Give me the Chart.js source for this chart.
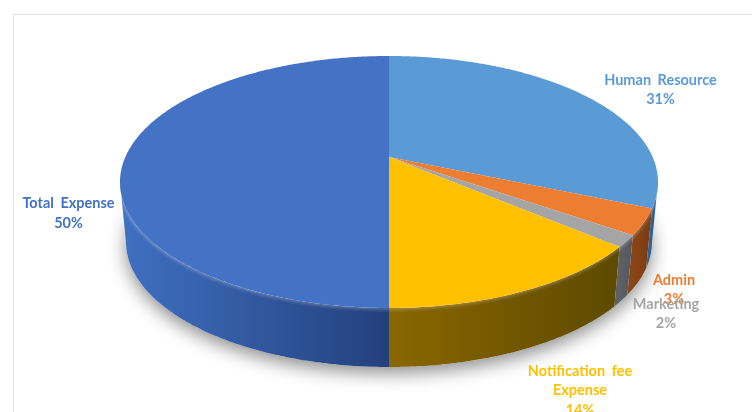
<!DOCTYPE html>
<html>
<head>
<meta charset="utf-8">
<style>
  html, body { margin: 0; padding: 0; background: #fff; overflow: hidden; }
  #frame { position: absolute; left: 13px; top: 14px; width: 800px; height: 500px; border: 1px solid #e3e3e3; }
  #pie_chart { position: absolute; left: 0; top: 0; }
</style>
</head>
<body>
<div id="frame"></div>
<canvas id="pie_chart" width="752" height="412"></canvas>
<script src="https://cdn.jsdelivr.net/npm/chart.js@4"></script>
<script>
var categories = ["Human Resource", "Admin", "Marketing", "Notification fee Expense", "Total Expense"];
var shares = [31.4, 3.3, 1.5, 13.8, 50];
var topColors = ["#5b9bd5", "#ed7d31", "#a5a5a5", "#ffc000", "#4472c4"];
var labelLines = [["Human Resource"], ["Admin"], ["Marketing"], ["Notification fee", "Expense"], ["Total Expense"]];

// wall colours, left end then right end of each slice
var wallColors = [
  ["#2f6396", "#234d74"],
  ["#8a4516", "#7a3a10"],
  ["#5d6064", "#53565a"],
  ["#8a6700", "#5d4900"],
  ["#4070c2", "#23407c"],
];
// centre x and y of the first line of each label
var labelPlaces = [[660.5, 80], [674, 280], [666, 304], [580, 371], [68.5, 203.5]];

var topFace = { cx: 389, cy: 182, rx: 269, ry: 126 };
var bottomFace = { cx: 389, cy: 242, rx: 263, ry: 125 };
var tilt = -0.198; // perspective shift, moves the pie centre up from the ellipse centre

// point on a face for an angle of the flat pie
function facePoint(face, a) {
  var u = Math.cos(a), v = Math.sin(a);
  var d = 1 + tilt * v;
  return {
    x: face.cx + face.rx * u * Math.sqrt(1 - tilt * tilt) / d,
    y: face.cy + face.ry * (v + tilt) / d,
  };
}

function traceEdge(ctx, face, from, to, first) {
  var steps = Math.max(2, Math.ceil(Math.abs(to - from) / 0.01));
  for (var i = 0; i <= steps; i++) {
    var p = facePoint(face, from + (to - from) * i / steps);
    if (i == 0 && first) ctx.moveTo(p.x, p.y);
    else ctx.lineTo(p.x, p.y);
  }
}

var pie3d = {
  id: "pie3d",
  beforeDatasetDraw: function (chart, args) {
    var ctx = chart.ctx;
    var arcs = chart.getDatasetMeta(args.index).data;
    var frontStart = Math.asin(-tilt);
    var frontEnd = Math.PI - frontStart;

    // soft shadow under the pie
    ctx.save();
    ctx.shadowColor = "rgba(0,0,0,0.45)";
    ctx.shadowBlur = 18;
    ctx.shadowOffsetY = 6;
    ctx.fillStyle = "#fff";
    ctx.beginPath();
    traceEdge(ctx, bottomFace, 0, Math.PI * 2, true);
    ctx.closePath();
    ctx.fill();
    ctx.restore();

    // side walls, only the part facing the viewer
    arcs.forEach(function (arc, i) {
      var from = Math.max(arc.startAngle, frontStart);
      var to = Math.min(arc.endAngle, frontEnd);
      if (to <= from) return;
      var x1 = facePoint(topFace, from).x, x2 = facePoint(topFace, to).x;
      var grad = ctx.createLinearGradient(Math.min(x1, x2), 0, Math.max(x1, x2), 0);
      grad.addColorStop(0, wallColors[i][0]);
      grad.addColorStop(1, wallColors[i][1]);
      ctx.fillStyle = grad;
      ctx.beginPath();
      traceEdge(ctx, topFace, from, to, true);
      traceEdge(ctx, bottomFace, to, from, false);
      ctx.closePath();
      ctx.fill();
    });

    // bevel along the front rim, soft and wider on the wall side
    [[8, 0.05], [5, 0.07], [3, 0.08]].forEach(function (band) {
      ctx.beginPath();
      traceEdge(ctx, topFace, frontStart, frontEnd, true);
      ctx.strokeStyle = "rgba(255,255,255," + band[1] + ")";
      ctx.lineWidth = band[0];
      ctx.stroke();
    });

    // top faces
    var centre = { x: topFace.cx, y: topFace.cy + topFace.ry * tilt };
    arcs.forEach(function (arc, i) {
      ctx.fillStyle = topColors[i];
      ctx.beginPath();
      ctx.moveTo(centre.x, centre.y);
      traceEdge(ctx, topFace, arc.startAngle, arc.endAngle, false);
      ctx.closePath();
      ctx.fill();
    });

    return false;
  },
  afterDatasetsDraw: function (chart) {
    var ctx = chart.ctx;
    var total = shares.reduce(function (s, v) { return s + v; }, 0);
    ctx.save();
    ctx.font = "bold 14.5px Lato";
    ctx.textAlign = "center";
    ctx.textBaseline = "middle";
    ctx.wordSpacing = "3px";
    categories.forEach(function (name, i) {
      var lines = labelLines[i].concat([Math.round(shares[i] / total * 100) + "%"]);
      ctx.fillStyle = topColors[i];
      lines.forEach(function (line, k) {
        ctx.fillText(line, labelPlaces[i][0], labelPlaces[i][1] + k * 19.5);
      });
    });
    ctx.restore();
  },
};

var pie_chart = new Chart(document.getElementById("pie_chart").getContext("2d"), {
  type: "pie",
  data: {
    labels: categories,
    datasets: [{ data: shares, backgroundColor: topColors, borderWidth: 0 }],
  },
  options: {
    responsive: false,
    animation: false,
    plugins: {
      legend: { display: false },
      tooltip: { enabled: false },
    },
  },
  plugins: [pie3d],
});
</script>
</body>
</html>
